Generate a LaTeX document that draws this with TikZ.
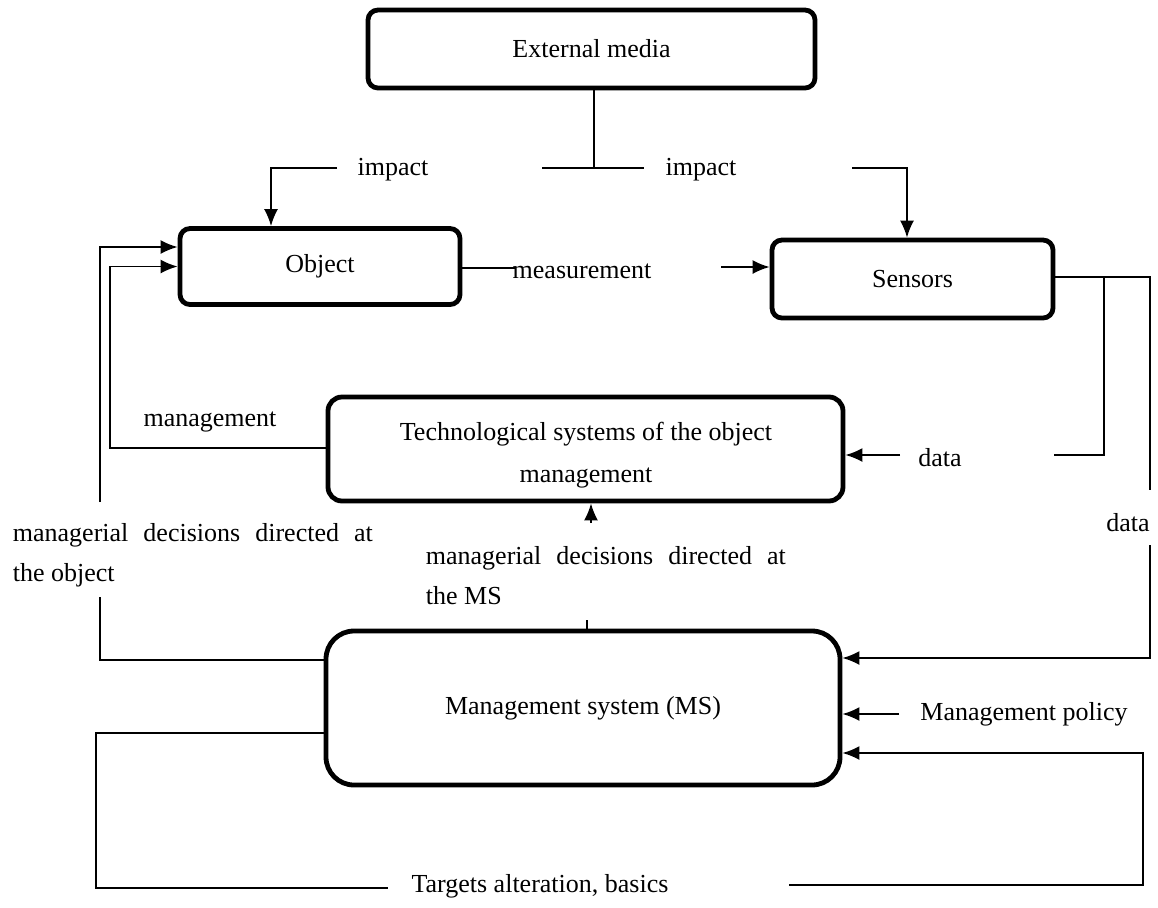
\documentclass[tikz,border=0pt]{standalone}
\usepackage{fontspec}
\setmainfont{Liberation Serif}
\usetikzlibrary{arrows.meta}

\begin{document}
\begin{tikzpicture}[x=0.5pt, y=-0.5pt, line width=0.9pt,
    every node/.style={font=\fontsize{13}{20}\selectfont},
    box/.style={draw, line width=2.4pt, rounded corners=5pt, inner sep=0pt},
    arr/.style={-{Latex[length=8.5pt,width=7pt]}},
    lbl/.style={inner sep=0pt}]
    \useasboundingbox (0,0) rectangle (1158,907);

    \node[box, minimum width=223.5pt, minimum height=39pt] (ext) at (591.5,49) {External media};
    \node[box, minimum width=140pt, minimum height=38pt] (obj) at (320,266.5) {Object};
    \node[box, minimum width=140.5pt, minimum height=39pt] (sens) at (912.5,279) {Sensors};
    \node[box, rounded corners=7pt, minimum width=257.5pt, minimum height=52pt] (tech) at (585.5,449) {};
    \node[lbl, align=center, font=\fontsize{13}{21}\selectfont] (techtxt) at (586,455) {Technological systems of the object\\management};
    \node[box, rounded corners=14pt, minimum width=257pt, minimum height=77pt] (ms) at (583,708) {Management system (MS)};

    \node[lbl] (impl) at (393,170) {impact};
    \node[lbl] (impr) at (701,170) {impact};
    \node[lbl] (meas) at (582,271) {measurement};
    \node[lbl] (datai) at (940,458) {data};
    \node[lbl] (datao) at (1128,523) {data};
    \node[lbl] (mgmt) at (210,422) {management};
    \node[lbl, anchor=north west, text width=180pt, align=justify] (decobj) at (12,523) {managerial decisions directed at the object};
    \node[lbl, anchor=north west, text width=180pt, align=justify] (decms) at (425,546) {managerial decisions directed at the MS};
    \node[lbl] (pol) at (1024,714) {Management policy};
    \node[lbl] (tgt) at (540,886) {Targets alteration, basics};

    \coordinate (jn) at (594,168);
    \coordinate (ia) at (542,168);
    \coordinate (ib) at (644,168);
    \coordinate (il) at (337,168);
    \coordinate (ilc) at (271,168);
    \coordinate (ir) at (852,168);
    \coordinate (irc) at (907,168);
    \draw (ext.south -| jn) -- (jn);
    \draw (ia) -- (ib);
    \draw[arr] (il) -- (ilc) -- (obj.north -| ilc);
    \draw[arr] (ir) -- (irc) -- (sens.north -| irc);

    \coordinate (ma) at (515,268);
    \coordinate (mb) at (721,267);
    \draw (obj.east |- ma) -- (ma);
    \draw[arr] (mb) -- (sens.west |- mb);

    \coordinate (s1) at (1104,277);
    \coordinate (s2) at (1150,277);
    \coordinate (s3) at (1150,490);
    \coordinate (da) at (1054,455);
    \coordinate (db) at (900,455);
    \draw (sens.east |- s1) -- (s2) -- (s3);
    \draw (s1) |- (da);
    \draw[arr] (db) -- (tech.east |- db);
    \coordinate (dc) at (1150,545);
    \coordinate (dd) at (1150,658);
    \draw[arr] (dc) -- (dd) -- (ms.east |- dd);

    \coordinate (mg) at (110,448);
    \draw[arr] (tech.west |- mg) -- (mg) |- (obj.west);

    \coordinate (oa) at (100,660);
    \coordinate (ob) at (100,597);
    \coordinate (oc) at (100,502);
    \coordinate (od) at (100,247);
    \draw (ms.west |- oa) -- (oa) -- (ob);
    \draw[arr] (oc) -- (od) -- (obj.west |- od);

    \coordinate (ta) at (587,620);
    \coordinate (tb) at (591,523);
    \draw (ta) -- (ms.north -| ta);
    \draw[arr] (tb) -- (tech.south -| tb);

    \coordinate (pa) at (899,714);
    \draw[arr] (pa) -- (ms.east |- pa);

    \coordinate (ga) at (96,733);
    \coordinate (gb) at (96,888);
    \coordinate (gc) at (388,888);
    \coordinate (gd) at (789,885);
    \coordinate (ge) at (1143,885);
    \coordinate (gf) at (1143,753);
    \draw (ms.west |- ga) -- (ga) -- (gb) -- (gc);
    \draw[arr] (gd) -- (ge) -- (gf) -- (ms.east |- gf);
\end{tikzpicture}
\end{document}
